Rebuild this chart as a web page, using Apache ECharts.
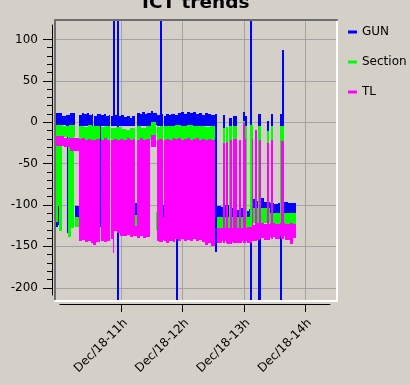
<!DOCTYPE html>
<html>
<head>
<meta charset="utf-8">
<script src="https://cdn.jsdelivr.net/npm/echarts@6/dist/echarts.min.js"></script>
<style>html,body{margin:0;padding:0;background:#d4d0c8;}#c{width:410px;height:385px;}</style>
</head>
<body>
<div id="c"></div>
<script>
// time in minutes after Dec/18 10:00; each band = [tStart, tEnd, low, high]
const SERIES_NAMES = ['GUN', 'Section', 'TL'];
const GUN = [
  [-4, 2, -3, 11], [2, 6, -3, 7], [6, 10, -4, 9], [10, 14.6, -4, 11],
  [-4, -2, -126, -3], [-1.8, -0.8, -124, -100], [6.6, 7.8, -134, -4],
  [14.6, 18.5, -114, -101],
  [18.5, 21, -5, 9], [21, 23.5, -5, 11], [23.5, 26, -5, 10], [26, 28.5, -5, 11], [28.5, 31, -5, 9],
  [31, 32.6, -5, 10], [33.4, 36, -5, 8], [36, 39, -5, 10], [39, 40, -126, 10],
  [40, 42.5, -5, 9], [42.5, 45, -5, 10], [45, 47.5, -5, 8], [47.5, 49.3, -5, 9],
  [50.2, 52.2, -5, 7], [52.2, 54.2, -5, 123.5], [54.2, 55.8, -5, 9], [55.8, 57.4, -216, 123.5],
  [57.4, 60, -5, 7], [60, 62.5, -5, 9], [62.5, 65, -5, 6], [65, 68, -5, 7], [68, 70.5, -5, 5], [70.5, 73.3, -5, 8],
  [73.3, 75.3, -112, -98],
  [75.3, 78, -5, 11], [78, 80.5, -5, 10], [80.5, 83, -5, 12], [83, 85.5, -5, 10], [85.5, 88.5, -5, 11],
  [88.5, 91, -3, 13], [91, 94.8, -3, 11], [94.8, 97.8, -5, 9], [97.8, 99.7, -5, 123.5], [99.7, 101.1, -5, 10],
  [100.6, 101.8, -114, -100],
  [101.8, 104, -5, 8], [104, 106.5, -5, 10], [106.5, 109, -5, 9], [109, 112.4, -5, 10],
  [112.4, 115, -5, 9], [115, 118, -5, 11], [118, 121, -5, 12], [121, 124, -5, 10], [124, 127, -5, 12],
  [127, 130, -5, 11], [130, 133, -5, 12], [133, 136, -5, 10], [136, 139, -5, 11], [139, 142, -5, 9],
  [142, 145, -5, 11], [145, 148, -5, 10], [148, 151.6, -5, 9],
  [113.6, 115.2, -216, -140], [151.8, 153.4, -157, 10],
  [153.4, 157, -114, -101], [157, 161, -114, -103], [161, 165, -114, -100], [165, 169, -114, -104],
  [169, 173, -114, -102], [173, 177, -114, -106], [177, 181, -114, -104], [181, 185, -114, -107],
  [185, 188.8, -114, -105], [188.8, 192, -104, -93], [192, 196, -104, -95], [196, 200, -104, -92],
  [200, 205.4, -104, -96], [205.4, 209, -110, -98], [209, 213, -110, -99], [213, 219, -110, -97],
  [219, 223, -110, -96], [223, 227, -110, -98], [227, 231, -110, -97],
  [159.1, 161.1, -105, 9], [165.6, 168.2, -105, 5], [168.9, 171.2, -105, 8], [171.2, 173.5, -105, 7],
  [178.7, 181, -105, 12], [181, 182.6, -105, 8], [185.9, 187.5, -216, 123.5], [194, 196.7, -216, 10],
  [202.3, 204.5, -100, 2], [206.4, 208.4, -100, 10], [215.4, 217.2, -216, 10], [217.2, 219, -100, 87]
];
const SECTION = [
  [-4, 3, -18, -3], [3, 9, -18, -5], [9, 14.6, -18, -3],
  [-4, -1.9, -121, -18], [-1.9, -0.9, -101, -18], [-0.9, 1.9, -131, -18],
  [7.6, 10.5, -139, -18], [10.5, 13.6, -128, -18], [14.6, 18.5, -127, -114],
  [18.5, 23, -22, -4], [23, 27, -22, -6], [27, 31, -22, -3], [31, 35, -22, -5], [35, 39, -22, -4],
  [40, 44, -22, -6], [44, 49.3, -22, -5], [50.2, 55, -22, -7], [55, 60, -22, -6], [60, 64, -22, -8],
  [64, 68, -22, -9], [68, 73.3, -22, -7], [73.3, 75.3, -125, -112],
  [75.3, 79, -22, -5], [79, 84, -22, -7], [84, 88.5, -22, -4], [88.5, 94, -16, 0], [93.8, 95.4, -130, -108],
  [94.8, 98, -22, -6], [98, 101.1, -22, -4], [101.8, 106, -22, -5], [106, 112.4, -22, -4],
  [112.4, 118, -22, -3], [118, 124, -22, -5], [124, 130, -22, -3], [130, 136, -22, -5],
  [136, 142, -22, -4], [142, 147, -22, -6], [147, 151.6, -22, -5],
  [153.4, 188.8, -128, -114], [188.8, 205.4, -122, -104], [205.4, 231, -124, -110],
  [159.1, 161.1, -125, -7], [162, 164.6, -125, -6], [165.6, 168.2, -125, -5], [168.9, 171.2, -125, -5],
  [171.2, 173.5, -125, -5], [178.7, 181, -125, 1], [181, 182.6, -125, -5], [186.2, 188.5, -122, -3],
  [194, 196.7, -122, -5], [202.3, 204.5, -122, -11], [206.4, 208.4, -122, -5], [215.6, 219, -124, -5]
];
const TL = [
  [-4, 4, -29, -17], [4, 10, -30, -19], [10, 18.5, -35, -19],
  [18.5, 21, -144, -20], [21, 24, -142, -19], [24, 27, -145, -21], [27, 30, -143, -20],
  [30, 32.6, -146, -22], [32.6, 35, -148, -21], [35, 39, -145, -20],
  [40, 43, -143, -21], [43, 46, -145, -19], [46, 49.3, -143, -22],
  [50.2, 51.5, -141, -21], [51.5, 53, -158, -21], [53, 56, -131, -20], [56, 59, -134, -22],
  [59, 62, -137, -20], [62, 65, -138, -21], [65, 68, -136, -19], [68, 71, -139, -21], [71, 73.3, -137, -20],
  [73.3, 75.3, -137, -125],
  [75.3, 78, -140, -21], [78, 81, -138, -19], [81, 84, -140, -22], [84, 88, -139, -20], [89, 94, -30, -15],
  [94.8, 97, -143, -21], [97, 101.1, -145, -20], [101.1, 101.8, -142, -114],
  [101.8, 104, -144, -22], [104, 107, -146, -20], [107, 110, -143, -21], [110, 112.4, -145, -19],
  [112.4, 115, -141, -20], [115, 118, -143, -19], [118, 121, -141, -21], [121, 124, -144, -20],
  [124, 127, -142, -19], [127, 130, -143, -21], [130, 133, -141, -20], [133, 136, -144, -19],
  [136, 139, -142, -21], [139, 142, -145, -20], [142, 145, -148, -22], [145, 148, -146, -20], [148, 151.6, -150, -21],
  [153.6, 158, -146, -128], [158, 163, -144, -128], [163, 168, -147, -128], [168, 173, -145, -128],
  [173, 178, -146, -128], [178, 183, -143, -128], [183, 188, -146, -127], [188, 191, -144, -124],
  [191, 195.7, -142, -122], [195.7, 200, -140, -122], [200, 205, -142, -123], [205, 210, -139, -122],
  [210, 215, -141, -123], [215, 220, -138, -122], [220, 225, -142, -123], [225, 228, -147, -122], [228, 231, -140, -123],
  [159.3, 161.1, -146, -25], [162.5, 164.6, -146, -24], [165.8, 168, -146, -22], [169, 171, -146, -20],
  [171.4, 173.3, -146, -20], [175.1, 176.6, -146, -21], [178.9, 180.8, -146, -1], [181.2, 182.4, -146, -20],
  [187.6, 189.2, -143, -20], [190.5, 192.5, -143, -9], [194.5, 196.5, -141, -21], [202.5, 204.3, -141, -25],
  [206.6, 208.2, -141, -22], [215.8, 218.8, -141, -23]
];
const X_RANGE = [-5, 271];
const Y_RANGE = [-216, 123.5];
const X_TICK_RANGE = [60, 240];
const Y_TICK_RANGE = [-200, 100];

const COLORS = ['#0000ff', '#00ff00', '#ff00ff'];
const FONT = 'DejaVu Sans';
const G = { left: 55, top: 20, width: 282, height: 281 };
function px(x) { return G.left + (x - X_RANGE[0]) / (X_RANGE[1] - X_RANGE[0]) * G.width; }
function py(y) { return G.top + (Y_RANGE[1] - y) / (Y_RANGE[1] - Y_RANGE[0]) * G.height; }

function bandRenderer(color) {
  return function (params, api) {
    const a = api.coord([api.value(0), api.value(3)]);
    const b = api.coord([api.value(1), api.value(2)]);
    const x0 = Math.round(a[0]), y0 = Math.round(a[1]);
    const x1 = Math.max(Math.round(b[0]), x0 + 1), y1 = Math.round(b[1]);
    return { type: 'rect', shape: { x: x0, y: y0, width: x1 - x0, height: y1 - y0 }, style: { fill: color } };
  };
}
const hidden = { show: false };
const chart = echarts.init(document.getElementById('c'));
const gxLeft = px(X_TICK_RANGE[0]), gxRight = px(X_TICK_RANGE[1]);
const gyTop = py(Y_TICK_RANGE[1]), gyBottom = py(Y_TICK_RANGE[0]);
chart.setOption({
  animation: false,
  backgroundColor: '#d4d0c8',
  title: { text: 'ICT trends', left: 142, top: -6, padding: 0,
    textStyle: { fontFamily: FONT, fontWeight: 'bold', fontSize: 18.5, color: '#000' } },
  legend: { orient: 'vertical', left: 343, top: 20, itemGap: 16, icon: 'rect', itemWidth: 9, itemHeight: 3,
    data: SERIES_NAMES, textStyle: { fontFamily: FONT, fontSize: 12, color: '#000', lineHeight: 14 } },
  grid: [
    { left: G.left, top: G.top, width: G.width, height: G.height },
    { left: gxLeft, top: G.top, width: gxRight - gxLeft, height: G.height },
    { left: G.left, top: gyTop, width: G.width, height: gyBottom - gyTop },
    { left: 60, top: 25, width: 270, height: 270 }
  ],
  xAxis: [
    { gridIndex: 0, type: 'value', min: X_RANGE[0], max: X_RANGE[1], position: 'bottom', z: 10,
      axisLine: { show: true, onZero: false, lineStyle: { color: '#ffffff', width: 2 } },
      axisTick: hidden, axisLabel: hidden, splitLine: hidden },
    { gridIndex: 0, type: 'value', min: X_RANGE[0], max: X_RANGE[1], position: 'top', z: 10,
      axisLine: { show: true, onZero: false, lineStyle: { color: '#6e6e6e', width: 2 } },
      axisTick: hidden, axisLabel: hidden, splitLine: hidden },
    { gridIndex: 1, type: 'value', min: X_TICK_RANGE[0], max: X_TICK_RANGE[1], interval: 60, position: 'bottom', offset: 3,
      axisLine: { show: false, onZero: false },
      axisTick: { show: true, length: 8, lineStyle: { color: '#000' } },
      axisLabel: { rotate: 45, margin: 13, verticalAlign: 'top', fontFamily: FONT, fontSize: 12, color: '#000',
        formatter: v => 'Dec/18-' + (10 + v / 60) + 'h' },
      splitLine: { show: true, lineStyle: { color: '#a3a3a3', width: 1 } } },
    { gridIndex: 2, type: 'value', min: 0, max: 1, show: false },
    { gridIndex: 3, type: 'value', min: 0, max: 1, position: 'bottom', offset: 9,
      axisLine: { show: true, onZero: false, lineStyle: { color: '#000', width: 1 } },
      axisTick: hidden, axisLabel: hidden, splitLine: hidden }
  ],
  yAxis: [
    { gridIndex: 0, type: 'value', min: Y_RANGE[0], max: Y_RANGE[1], position: 'left', z: 10,
      axisLine: { show: true, onZero: false, lineStyle: { color: '#6e6e6e', width: 2 } },
      axisTick: hidden, axisLabel: hidden, splitLine: hidden },
    { gridIndex: 0, type: 'value', min: Y_RANGE[0], max: Y_RANGE[1], position: 'right', z: 10,
      axisLine: { show: true, onZero: false, lineStyle: { color: '#ffffff', width: 2 } },
      axisTick: hidden, axisLabel: hidden, splitLine: hidden },
    { gridIndex: 1, type: 'value', min: 0, max: 1, show: false },
    { gridIndex: 2, type: 'value', min: Y_TICK_RANGE[0], max: Y_TICK_RANGE[1], interval: 50, position: 'left', offset: 3,
      axisLine: { show: false, onZero: false },
      axisTick: { show: true, length: 9, lineStyle: { color: '#000' } },
      minorTick: { show: true, splitNumber: 5, length: 5, lineStyle: { color: '#000' } },
      axisLabel: { margin: 14, fontFamily: FONT, fontSize: 12, color: '#000' },
      splitLine: { show: true, lineStyle: { color: '#a3a3a3', width: 1 } } },
    { gridIndex: 3, type: 'value', min: 0, max: 1, position: 'left', offset: 8,
      axisLine: { show: true, onZero: false, lineStyle: { color: '#000', width: 1 } },
      axisTick: hidden, axisLabel: hidden, splitLine: hidden }
  ],
  series: [GUN, SECTION, TL].map((d, i) => ({
    name: SERIES_NAMES[i], type: 'custom', xAxisIndex: 0, yAxisIndex: 0, clip: true,
    itemStyle: { color: COLORS[i] }, encode: { x: [0, 1], y: [2, 3] },
    renderItem: bandRenderer(COLORS[i]), data: d, z: 2 + i
  }))
});
</script>
</body>
</html>
